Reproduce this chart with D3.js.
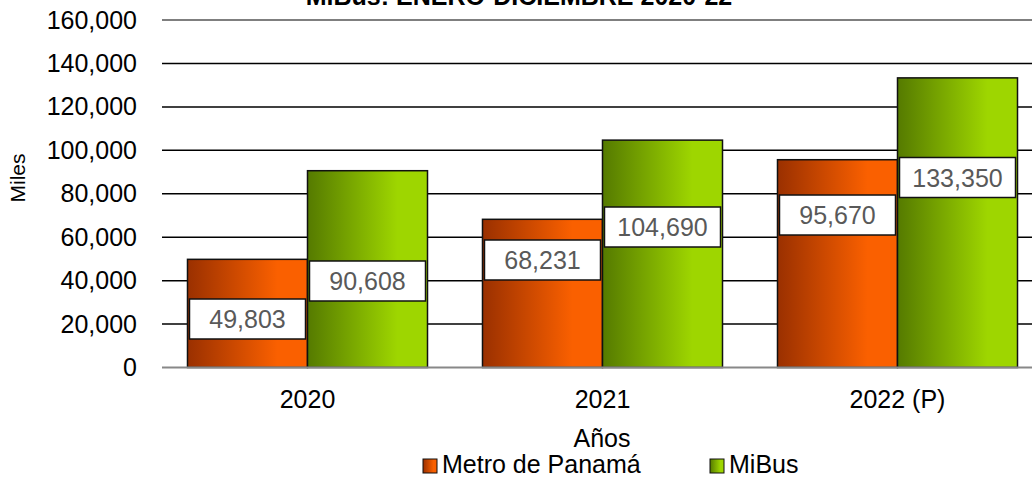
<!DOCTYPE html>
<html>
<head>
<meta charset="utf-8">
<script src="https://cdn.jsdelivr.net/npm/d3@7/dist/d3.min.js"></script>
<style>
  body { margin: 0; background: #fff; }
  text { font-family: "Liberation Sans", Arial, sans-serif; }
</style>
</head>
<body>
<script>
// data
var years = ["2020", "2021", "2022 (P)"];
var series = ["Metro de Panamá", "MiBus"];
var metro = [49803, 68231, 95670];
var mibus = [90608, 104690, 133350];
// where the data labels sit (value units)
var metroLabelAt = [22330, 49500, 70210];
var mibusLabelAt = [39830, 64690, 87480];
var yTicks = [0, 20000, 40000, 60000, 80000, 100000, 120000, 140000, 160000];

var width = 1032, height = 478;

var svg = d3.select("body").append("svg")
    .attr("width", width)
    .attr("height", height);

var defs = svg.append("defs");
function grad(id, c0, c1) {
    var g = defs.append("linearGradient").attr("id", id)
        .attr("x1", "0%").attr("x2", "100%").attr("y1", "0%").attr("y2", "0%");
    g.append("stop").attr("offset", "0%").attr("stop-color", c0);
    g.append("stop").attr("offset", "75%").attr("stop-color", c1);
    g.append("stop").attr("offset", "100%").attr("stop-color", c1);
}
grad("gOrange", "#9a3000", "#fa6000");
grad("gGreen", "#557a00", "#9ed600");
var fills = ["url(#gOrange)", "url(#gGreen)"];

var y = d3.scaleLinear().domain([0, 160000]).range([367.5, 20]);
var x0 = d3.scaleBand().domain(years).range([160, 1045])
    .paddingInner(0.1864).paddingOuter(0.0932);
var x1 = d3.scaleBand().domain(series).range([0, x0.bandwidth()]);

// gridlines
svg.append("g").selectAll("line")
  .data(yTicks.filter(function(d) { return d > 0; }))
  .enter().append("line")
    .attr("x1", 162).attr("x2", width)
    .attr("y1", function(d) { return y(d); })
    .attr("y2", function(d) { return y(d); })
    .attr("stroke", function(d) { return d == 160000 ? "#555" : "#000"; })
    .attr("stroke-width", 1.5);

// y axis labels
var yAxis = svg.append("g")
    .attr("transform", "translate(137,0)")
    .call(d3.axisLeft(y).tickValues(yTicks).tickSize(0).tickPadding(0)
        .tickFormat(d3.format(",")));
yAxis.select(".domain").remove();
yAxis.selectAll("text")
    .attr("font-size", 25)
    .attr("font-family", "Liberation Sans, Arial, sans-serif")
    .attr("fill", "#000");

// bars
var rows = years.map(function(yr, i) {
    return { year: yr, vals: [
        { s: series[0], v: metro[i], at: metroLabelAt[i], k: 0 },
        { s: series[1], v: mibus[i], at: mibusLabelAt[i], k: 1 }
    ] };
});

var groups = svg.append("g").selectAll("g")
  .data(rows)
  .enter().append("g")
    .attr("transform", function(d) { return "translate(" + x0(d.year) + ",0)"; });

groups.selectAll("rect.bar")
  .data(function(d) { return d.vals; })
  .enter().append("rect")
    .attr("class", "bar")
    .attr("x", function(d) { return x1(d.s); })
    .attr("width", x1.bandwidth())
    .attr("y", function(d) { return y(d.v); })
    .attr("height", function(d) { return y(0) - y(d.v); })
    .attr("fill", function(d) { return fills[d.k]; })
    .attr("stroke", "#111")
    .attr("stroke-width", 1.5);

// baseline
svg.append("line")
    .attr("x1", 162).attr("x2", width)
    .attr("y1", y(0)).attr("y2", y(0))
    .attr("stroke", "#888").attr("stroke-width", 2);

// data labels
var lab = groups.selectAll("g.lab")
  .data(function(d) { return d.vals; })
  .enter().append("g")
    .attr("class", "lab")
    .attr("transform", function(d) {
        return "translate(" + (x1(d.s) + x1.bandwidth() / 2) + "," + y(d.at) + ")";
    });
lab.append("rect")
    .attr("x", -x1.bandwidth() / 2 + 2)
    .attr("width", x1.bandwidth() - 4)
    .attr("y", -20).attr("height", 40)
    .attr("fill", "#fff")
    .attr("stroke", "#111").attr("stroke-width", 1.5);
lab.append("text")
    .attr("text-anchor", "middle")
    .attr("y", 9)
    .attr("font-size", 25)
    .attr("fill", "#595959")
    .text(function(d) { return d3.format(",")(d.v); });

// x axis labels
svg.append("g").selectAll("text")
  .data(years)
  .enter().append("text")
    .attr("x", function(d) { return x0(d) + x0.bandwidth() / 2; })
    .attr("y", 408)
    .attr("text-anchor", "middle")
    .attr("font-size", 25)
    .text(function(d) { return d; });

// axis titles
svg.append("text")
    .attr("x", 602).attr("y", 447)
    .attr("text-anchor", "middle")
    .attr("font-size", 25)
    .text("Años");

svg.append("text")
    .attr("transform", "translate(25,178) rotate(-90)")
    .attr("text-anchor", "middle")
    .attr("font-size", 21)
    .text("Miles");

// title (top line is off the canvas)
svg.append("text")
    .attr("x", 519).attr("y", 5)
    .attr("text-anchor", "middle")
    .attr("font-size", 25)
    .attr("font-weight", "bold")
    .text("MiBus: ENERO-DICIEMBRE 2020-22");

// legend
var legX = [423, 710];
var leg = svg.append("g").selectAll("g")
  .data(series)
  .enter().append("g")
    .attr("transform", function(d, i) { return "translate(" + legX[i] + ",459)"; });
leg.append("rect")
    .attr("width", 14).attr("height", 14)
    .attr("fill", function(d, i) { return fills[i]; })
    .attr("stroke", "#111").attr("stroke-width", 1);
leg.append("text")
    .attr("x", 19).attr("y", 14)
    .attr("font-size", 25)
    .text(function(d) { return d; });
</script>
</body>
</html>
